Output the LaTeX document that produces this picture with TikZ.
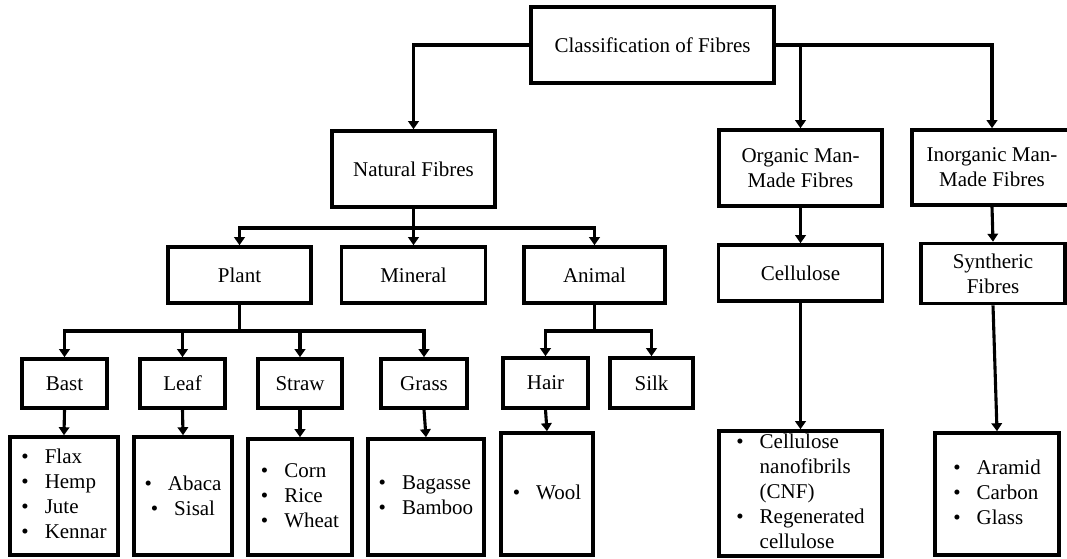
\documentclass[tikz,border=0pt]{standalone}
\usepackage{fontspec}
\setmainfont{Liberation Serif}
\usetikzlibrary{arrows.meta}
\newcommand{\fiblist}[1]{\begin{tabular}{@{}l@{\hspace{16pt}}l@{}}#1\end{tabular}}

\begin{document}
\begin{tikzpicture}[x=1pt, y=-1pt,
        every node/.style={font=\fontsize{21}{25}\selectfont},
        box/.style={draw, line width=3.6pt, inner sep=0pt, align=center},
        link/.style={line width=3.1pt},
        arr/.style={link, -{Triangle[width=10.5pt,length=8pt]}}]
    \clip (0,0) rectangle (1067,558);
    % top levels
    \node[box, minimum width=243pt, minimum height=76pt] (cls) at (652.5,45) {Classification of Fibres};
    \node[box, minimum width=163pt, minimum height=76pt] (nat) at (413.5,169) {Natural Fibres};
    \node[box, minimum width=163pt, minimum height=76pt] (org) at (800.5,168) {Organic Man-\\Made Fibres};
    \node[box, minimum width=160pt, minimum height=75pt] (inorg) at (992,167.5) {Inorganic Man-\\Made Fibres};
    \node[box, minimum width=143pt, minimum height=56pt] (plant) at (239.5,275) {Plant};
    \node[box, minimum width=144pt, minimum height=56pt] (mineral) at (413.5,275) {Mineral};
    \node[box, minimum width=141pt, minimum height=56pt] (animal) at (594.5,275) {Animal};
    \node[box, minimum width=164pt, minimum height=56pt] (cellu) at (800.5,273) {Cellulose};
    \node[box, minimum width=144pt, minimum height=60pt] (synth) at (993,273.5) {Syntheric\\Fibres};
    \node[box, minimum width=85pt, minimum height=49pt] (bast) at (64.5,383.5) {Bast};
    \node[box, minimum width=85pt, minimum height=49pt] (leaf) at (182.5,383.5) {Leaf};
    \node[box, minimum width=84pt, minimum height=49pt] (straw) at (300,383.5) {Straw};
    \node[box, minimum width=86pt, minimum height=49pt] (grass) at (424,383.5) {Grass};
    \node[box, minimum width=85pt, minimum height=50pt] (hair) at (545.5,383) {Hair};
    \node[box, minimum width=83pt, minimum height=50pt] (silk) at (651.5,383) {Silk};
    % lists
    \node[box, minimum width=108pt, minimum height=118pt] (bastlist) at (64,496) {\fiblist{\textbullet & Flax\\ \textbullet & Hemp\\ \textbullet & Jute\\ \textbullet & Kennar}};
    \node[box, minimum width=98pt, minimum height=118pt] (leaflist) at (183,496) {\textbullet\hspace{16pt}Abaca\\ \textbullet\hspace{16pt}Sisal};
    \node[box, minimum width=104pt, minimum height=116pt] (strawlist) at (300,497) {\fiblist{\textbullet & Corn\\ \textbullet & Rice\\ \textbullet & Wheat}};
    \node[box, minimum width=116pt, minimum height=116pt] (grasslist) at (426,497) {\fiblist{\textbullet & Bagasse\\ \textbullet & Bamboo}};
    \node[box, minimum width=92pt, minimum height=122pt] (woollist) at (547,494) {\fiblist{\textbullet & Wool}};
    \node[box, minimum width=163pt, minimum height=123pt] (celllist) at (800.5,493.5) {\fiblist{\textbullet & Cellulose\\ & nanofibrils\\ & (CNF)\\ \textbullet & Regenerated\\ & cellulose}};
    \node[box, minimum width=124pt, minimum height=122pt] (synlist) at (997,494) {\fiblist{\textbullet & Aramid\\ \textbullet & Carbon\\ \textbullet & Glass}};
    % connectors
    \coordinate (natbar) at (413.5,228);
    \coordinate (plantbar) at (239.5,331);
    \coordinate (animbar) at (594.5,331);
    \draw[arr] (cls.west) -| (nat.north);
    \draw[arr] (cls.east) -| (inorg.north);
    \draw[arr] (cls.east -| org.north) -- (org.north);
    \draw[arr] (nat.south) -- (mineral.north);
    \draw[arr] (natbar) -| (plant.north);
    \draw[arr] (natbar) -| (animal.north);
    \draw[arr] (org.south) -- (cellu.north);
    \draw[arr] (inorg.south) -- (synth.north);
    \draw[link] (plant.south) -- (plantbar);
    \foreach \c in {bast,leaf,straw,grass}
        \draw[arr] (plantbar) -| (\c.north);
    \draw[link] (animal.south) -- (animbar);
    \foreach \c in {hair,silk}
        \draw[arr] (animbar) -| (\c.north);
    \draw[arr] (bast.south) -- (bastlist.north);
    \draw[arr] (leaf.south) -- (leaflist.north);
    \draw[arr] (straw.south) -- (strawlist.north);
    \draw[arr] (grass.south) -- (grasslist.north);
    \draw[arr] (hair.south) -- (woollist.north);
    \draw[arr] (cellu.south) -- (celllist.north);
    \draw[arr] (synth.south) -- (synlist.north);
\end{tikzpicture}
\end{document}
